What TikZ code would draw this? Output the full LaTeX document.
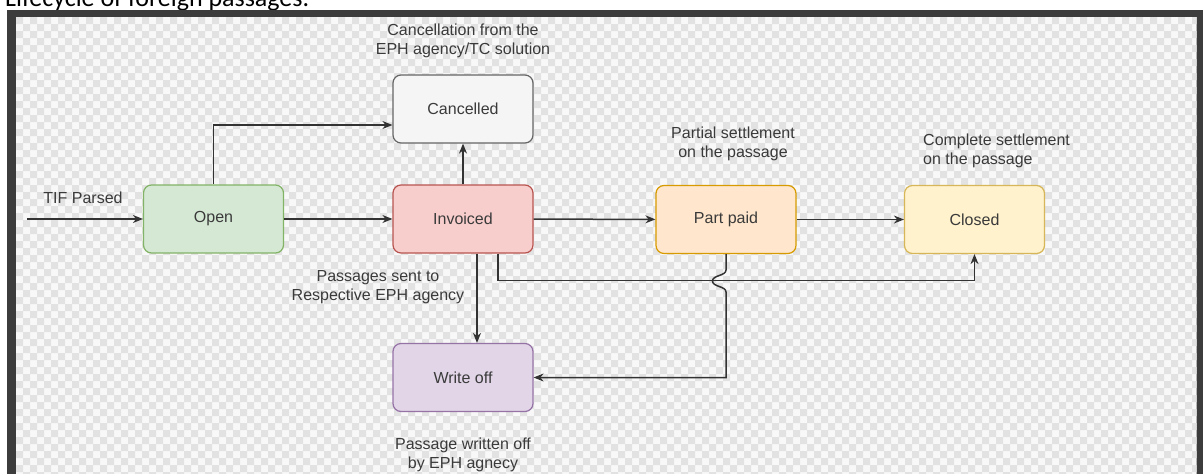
\documentclass[tikz,border=0pt]{standalone}
\usepackage{fontspec}
\setmainfont{Liberation Sans}
\newfontfamily\capfont{Carlito}
\usetikzlibrary{arrows.meta}
\definecolor{framec}{HTML}{3C3C3C}
\definecolor{chklight}{HTML}{F8F8F8}
\definecolor{chkdark}{HTML}{E2E2E2}
\definecolor{txt}{HTML}{3A3A3A}
\definecolor{linec}{HTML}{333333}
\definecolor{gfill}{HTML}{D5E8D4}\definecolor{gdraw}{HTML}{82B366}
\definecolor{cfill}{HTML}{F5F5F5}\definecolor{cdraw}{HTML}{666666}
\definecolor{rfill}{HTML}{F8CECC}\definecolor{rdraw}{HTML}{B85450}
\definecolor{ofill}{HTML}{FFE6CC}\definecolor{odraw}{HTML}{D79B00}
\definecolor{yfill}{HTML}{FFF2CC}\definecolor{ydraw}{HTML}{D6B656}
\definecolor{pfill}{HTML}{E1D5E7}\definecolor{pdraw}{HTML}{9673A6}
\tikzset{
  state/.style={rectangle, rounded corners=8pt, minimum width=140pt, minimum height=68pt,
    line width=1.2pt, text=txt, font=\fontsize{16}{19}\selectfont},
  lbl/.style={text=txt, font=\fontsize{16}{19}\selectfont, inner sep=0pt},
  arr/.style={line width=1.5pt, draw=linec, -{Stealth[length=10pt,width=8pt]}},
}
\begin{document}
\begin{tikzpicture}[x=1pt,y=-1pt]
\useasboundingbox (0,0) rectangle (1203,474);
\fill[white] (0,0) rectangle (1203,474);
% caption (clipped at top)
\node[anchor=base west, inner sep=0pt, font=\capfont\fontsize{26}{30}\selectfont] (caption) at (5,6) {Lifecycle of foreign passages.};
% frame
\fill[framec] (7,10) rectangle (1210,480);
\begin{scope}
\clip (16,17) rectangle (1196.5,474);
\fill[chklight] (16,17) rectangle (1196.5,474);
\foreach \r in {0,...,66}{
  \pgfmathtruncatemacro{\s}{mod(\r,2)}
  \fill[chkdark] \foreach \c in {0,2,...,170}{ (16+\c*7+\s*7,17+\r*7) rectangle ++(7,7) };
}
\end{scope}
% nodes
\node[state, fill=gfill, draw=gdraw] (open) at (213.5,219) {Open};
\node[state, fill=cfill, draw=cdraw] (cancelled) at (463,109) {Cancelled};
\node[state, fill=rfill, draw=rdraw] (invoiced) at (463,219) {Invoiced};
\node[state, fill=ofill, draw=odraw] (partpaid) at (726,219.5) {Part paid};
\node[state, fill=yfill, draw=ydraw] (closed) at (974.5,219.5) {Closed};
\node[state, fill=pfill, draw=pdraw] (writeoff) at (463,377.5) {Write off};
% labels
\node[lbl] (tif) at (83,198) {TIF Parsed};
\node[lbl, align=center] (canclbl) at (463,41) {Cancellation from the\\EPH agency/TC solution};
\node[lbl, align=center] (partlbl) at (733,143.5) {Partial settlement\\on the passage};
\node[lbl, align=left, anchor=west] (closlbl) at (923,150.5) {Complete settlement\\on the passage};
\node[lbl, align=center] (sentlbl) at (378,287) {Passages sent to\\Respective EPH agency};
\node[lbl, align=center] (wolbl) at (463,454.5) {Passage written off\\by EPH agnecy};
% connectors
\coordinate (tifstart) at (27,219);
\draw[arr] (tifstart) -- (open.west);
\draw[arr] (open) -- (invoiced);
\draw[arr] (open.north) |- ([yshift=-16pt]cancelled.west);
\draw[arr] (invoiced) -- (cancelled);
\draw[arr] (invoiced) -- (partpaid);
\draw[arr] (partpaid) -- (closed);
\draw[arr] ([xshift=35pt]invoiced.south) -- ++(0,27) -| (closed.south);
\draw[arr] ([xshift=14pt]invoiced.south) -- ([xshift=14pt]writeoff.north);
\coordinate (h1) at (726,270);
\coordinate (h2) at (712.5,281);
\coordinate (h3) at (726,292);
\draw[arr] (partpaid.south) -- (h1) .. controls (726,276) and (712.5,275) .. (h2)
  .. controls (712.5,287) and (726,286) .. (h3) |- (writeoff.east);
\end{tikzpicture}
\end{document}
